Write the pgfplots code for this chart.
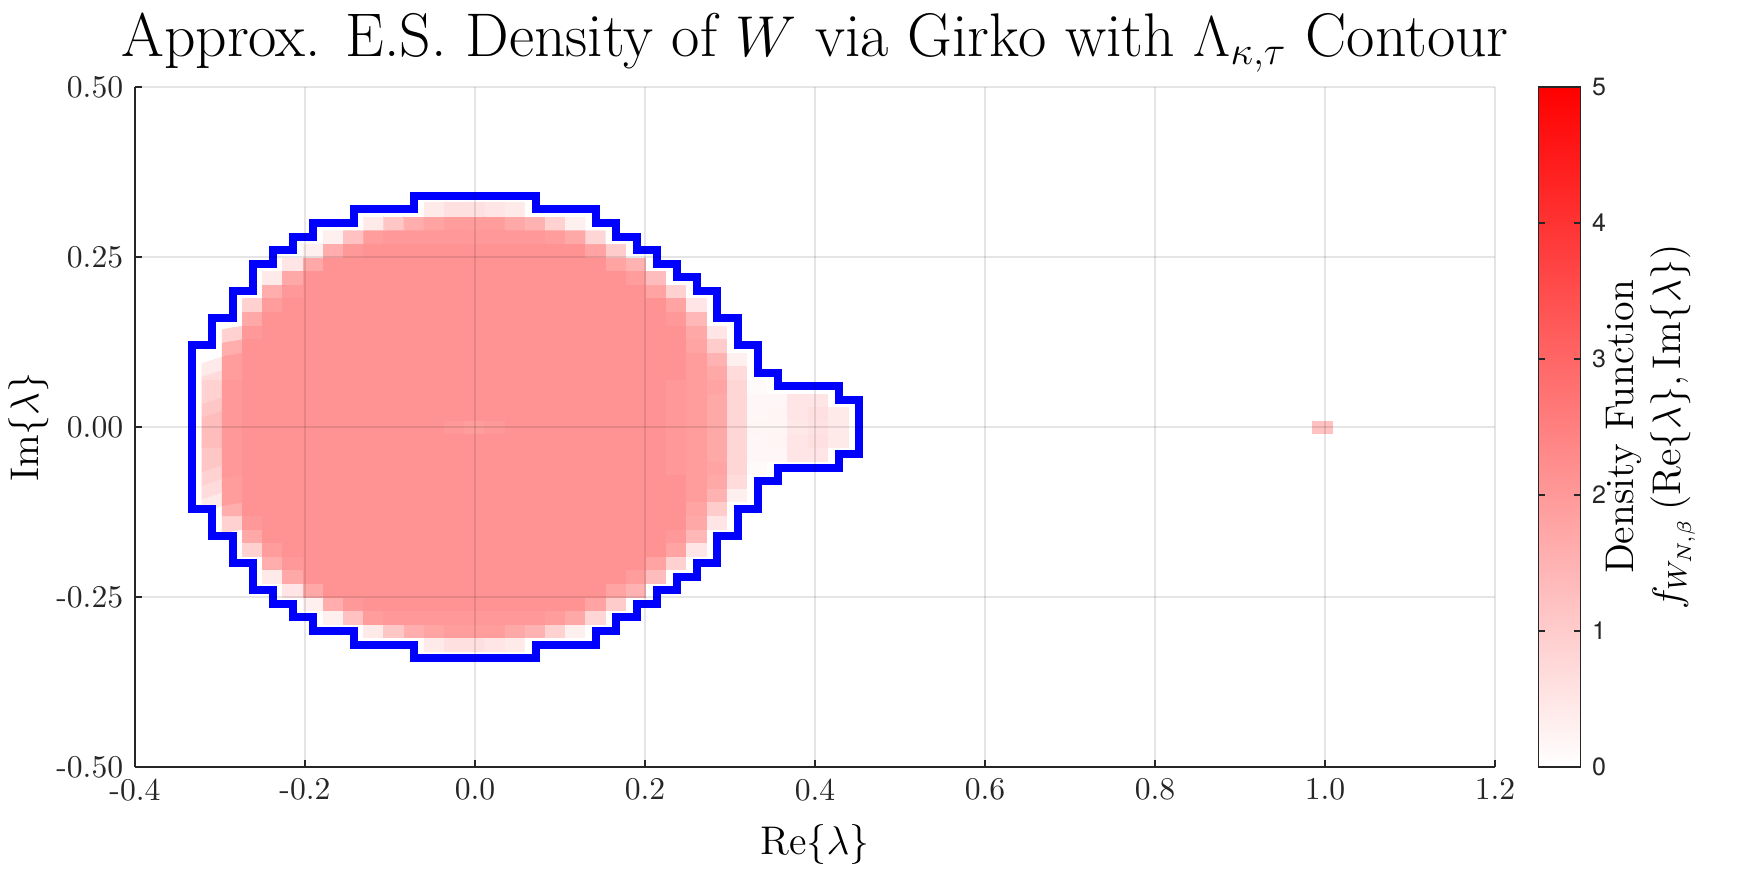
\documentclass[border=0pt]{standalone}
\usepackage{fontspec}
\usepackage{pgfplots}
\pgfplotsset{compat=1.18}
\newfontfamily\helv{TeX Gyre Heros}

\begin{document}
\begin{tikzpicture}
\path[use as bounding box] (-40.5pt,-32.4pt) rectangle (484.5pt,230.1pt);
\begin{axis}[
  at={(0pt,0pt)}, anchor=south west,
  scale only axis, width=408pt, height=204pt,
  xmin=-0.4, xmax=1.2, ymin=-0.5, ymax=0.5,
  axis on top,
  axis x line*=bottom, axis y line*=left,
  every outer x axis line/.append style={-},
  every outer y axis line/.append style={-},
  axis line style={-, draw=black!85, line width=0.45pt},
  tick style={draw=black!85, line width=0.45pt},
  tick align=inside, major tick length=2pt,
  xtick={-0.4,-0.2,0,0.2,0.4,0.6,0.8,1.0,1.2},
  xticklabels={-0.4,-0.2,0.0,0.2,0.4,0.6,0.8,1.0,1.2},
  ytick={-0.5,-0.25,0,0.25,0.5},
  yticklabels={-0.50,-0.25,0.00,0.25,0.50},
  ticklabel style={font=\fontsize{9.5}{11}\selectfont, text=black!85},
  grid=major,
  major grid style={draw=black, opacity=0.1, line width=0.4pt},
  title={Approx. E.S. Density of $W$ via Girko with $\Lambda_{\kappa,\tau}$ Contour},
  every axis title/.style={at={(axis description cs:0.5,1.0456)}, anchor=base, font=\fontsize{18.5}{21}\selectfont},
  xlabel={$\mathrm{Re}\{\lambda\}$},
  xlabel style={at={(axis description cs:0.5,-0.129)}, anchor=base, font=\fontsize{12}{14}\selectfont},
  ylabel={$\mathrm{Im}\{\lambda\}$},
  ylabel style={at={(axis description cs:-0.0784,0.5)}, anchor=center, font=\fontsize{12}{14}\selectfont},
  colormap={whitered}{rgb255=(255,255,255) rgb255=(255,0,0)},
  point meta min=0, point meta max=5,
  colorbar,
  colorbar style={
    at={(parent axis.north east)}, anchor=north west, xshift=4.5pt,
    scale only axis, width=12.6pt, height=204pt,
    ytick={0,1,2,3,4,5}, yticklabels={0,1,2,3,4,5},
    yticklabel style={font=\helv\fontsize{7.5}{9}\selectfont},
    axis line style={draw=black!85, line width=0.45pt},
    tick align=inside, major tick length=2pt,
    ylabel={Density Function\\$f_{W_{N,\beta}}\left(\mathrm{Re}\{\lambda\},\mathrm{Im}\{\lambda\}\right)$},
    ylabel style={at={(axis description cs:2.67,0.5)}, anchor=center, align=center, font=\fontsize{12}{14}\selectfont},
  },
]

% density cells: columns -13..18 (dx = 0.02376), rows -16..16 (dy = 0.02), bottom row first
\addplot[matrix plot*, mesh/cols=32, point meta=explicit]
  table[header=false, row sep=\\, meta index=0,
        x expr={(mod(\coordindex,32)-13)*0.02376},
        y expr={(floor(\coordindex/32)-16)*0.02}] {
0\\ 0\\ 0\\ 0\\ 0\\  0\\ 0\\ 0\\ 0\\ 0\\  0\\  0.4\\ 0.6\\ 0.6\\ 0.5\\ 0.4\\  0\\ 0\\ 0\\ 0\\ 0\\  0\\ 0\\ 0\\ 0\\ 0\\  0\\ 0\\ 0\\ 0\\ 0\\  0\\
0\\ 0\\ 0\\ 0\\ 0\\  0\\ 0\\ 0\\  0.4\\ 1.1\\ 1.6\\ 1.8\\ 1.9\\ 1.9\\ 1.9\\ 1.7\\ 1.5\\ 0.9\\ 0.3\\  0\\ 0\\ 0\\ 0\\ 0\\  0\\ 0\\ 0\\ 0\\ 0\\  0\\ 0\\ 0\\
0\\ 0\\ 0\\ 0\\ 0\\  0\\  0.3\\ 1.2\\ 1.9\\ 2\\ 2\\ 2\\ 2\\ 2\\ 2\\ 2\\ 2\\ 1.9\\ 1.7\\ 0.8\\  0\\ 0\\ 0\\ 0\\ 0\\  0\\ 0\\ 0\\ 0\\ 0\\  0\\ 0\\
0\\ 0\\ 0\\ 0\\ 0\\  0.3\\ 1.6\\ 2\\  2.1\\ 2.1\\ 2.1\\ 2.1\\ 2.1\\  2.1\\ 2.1\\ 2.1\\ 2.1\\ 2.1\\  2.1\\  1.8\\ 1\\  0\\ 0\\ 0\\ 0\\ 0\\  0\\ 0\\ 0\\ 0\\ 0\\  0\\
0\\ 0\\ 0\\ 0\\  0.5\\ 1.7\\  2.1\\ 2.1\\ 2.1\\ 2.1\\ 2.1\\  2.1\\ 2.1\\ 2.1\\ 2.1\\ 2.1\\  2.1\\ 2.1\\ 2.1\\ 2.1\\  1.8\\ 1.5\\  0\\ 0\\ 0\\ 0\\ 0\\  0\\ 0\\ 0\\ 0\\ 0\\
0\\ 0\\ 0\\  0.4\\ 1.7\\  2.1\\ 2.1\\ 2.1\\ 2.1\\ 2.1\\  2.1\\ 2.1\\ 2.1\\ 2.1\\ 2.1\\  2.1\\ 2.1\\ 2.1\\ 2.1\\ 2.1\\  2.1\\  1.9\\ 1.3\\  0\\ 0\\ 0\\ 0\\ 0\\  0\\ 0\\ 0\\ 0\\
0\\ 0\\ 0\\  1.6\\ 2\\  2.1\\ 2.1\\ 2.1\\ 2.1\\ 2.1\\  2.1\\ 2.1\\ 2.1\\ 2.1\\ 2.1\\  2.1\\ 2.1\\ 2.1\\ 2.1\\ 2.1\\  2.1\\ 2.1\\  1.8\\ 0.9\\  0\\ 0\\ 0\\ 0\\ 0\\  0\\ 0\\ 0\\
0\\ 0\\  0.9\\ 1.9\\  2.1\\ 2.1\\ 2.1\\ 2.1\\ 2.1\\  2.1\\ 2.1\\ 2.1\\ 2.1\\ 2.1\\  2.1\\ 2.1\\ 2.1\\ 2.1\\ 2.1\\  2.1\\ 2.1\\ 2.1\\ 2.1\\  1.8\\ 0.5\\  0\\ 0\\ 0\\ 0\\ 0\\  0\\ 0\\
0\\ 0\\  1.7\\  2.1\\ 2.1\\ 2.1\\ 2.1\\ 2.1\\  2.1\\ 2.1\\ 2.1\\ 2.1\\ 2.1\\  2.1\\ 2.1\\ 2.1\\ 2.1\\ 2.1\\  2.1\\ 2.1\\ 2.1\\ 2.1\\ 2.1\\  2\\ 1.4\\  0\\ 0\\ 0\\ 0\\ 0\\  0\\ 0\\
0\\  0.9\\ 2\\  2.1\\ 2.1\\ 2.1\\ 2.1\\ 2.1\\  2.1\\ 2.1\\ 2.1\\ 2.1\\ 2.1\\  2.1\\ 2.1\\ 2.1\\ 2.1\\ 2.1\\  2.1\\ 2.1\\ 2.1\\ 2.1\\ 2.1\\  2.1\\  1.7\\ 0.5\\  0\\ 0\\ 0\\ 0\\ 0\\  0\\
0\\  1.6\\  2.1\\ 2.1\\ 2.1\\ 2.1\\ 2.1\\  2.1\\ 2.1\\ 2.1\\ 2.1\\ 2.1\\  2.1\\ 2.1\\ 2.1\\ 2.1\\ 2.1\\  2.1\\ 2.1\\ 2.1\\ 2.1\\ 2.1\\  2.1\\ 2.1\\  1.8\\ 1\\  0\\ 0\\ 0\\ 0\\ 0\\  0\\
0.4\\ 1.9\\  2.1\\ 2.1\\ 2.1\\ 2.1\\ 2.1\\  2.1\\ 2.1\\ 2.1\\ 2.1\\ 2.1\\  2.1\\ 2.1\\ 2.1\\ 2.1\\ 2.1\\  2.1\\ 2.1\\ 2.1\\ 2.1\\ 2.1\\  2.1\\ 2.1\\  1.9\\ 1.5\\ 0.3\\  0\\ 0\\ 0\\ 0\\ 0\\
0.7\\ 1.9\\  2.1\\ 2.1\\ 2.1\\ 2.1\\ 2.1\\  2.1\\ 2.1\\ 2.1\\ 2.1\\ 2.1\\  2.1\\ 2.1\\ 2.1\\ 2.1\\ 2.1\\  2.1\\ 2.1\\ 2.1\\ 2.1\\ 2.1\\  2.1\\ 2.1\\  1.9\\ 1.7\\ 0.7\\  0\\ 0\\ 0\\ 0\\ 0\\
0.9\\ 2\\  2.1\\ 2.1\\ 2.1\\ 2.1\\ 2.1\\  2.1\\ 2.1\\ 2.1\\ 2.1\\ 2.1\\  2.1\\ 2.1\\ 2.1\\ 2.1\\ 2.1\\  2.1\\ 2.1\\ 2.1\\ 2.1\\ 2.1\\  2.1\\  2\\ 1.9\\ 1.8\\ 0.8\\ 0.1\\  0\\ 0\\ 0\\ 0\\
1.1\\ 2\\  2.1\\ 2.1\\ 2.1\\ 2.1\\ 2.1\\  2.1\\ 2.1\\ 2.1\\ 2.1\\ 2.1\\  2.1\\ 2.1\\ 2.1\\ 2.1\\ 2.1\\  2.1\\ 2.1\\ 2.1\\ 2.1\\ 2.1\\  2.1\\  2\\ 1.9\\ 1.7\\ 0.8\\  0.15\\ 0.15\\ 0.5\\ 0.5\\  0\\
1.3\\ 2\\  2.1\\ 2.1\\ 2.1\\ 2.1\\ 2.1\\  2.1\\ 2.1\\ 2.1\\ 2.1\\ 2.1\\  2.1\\ 2.1\\ 2.1\\ 2.1\\ 2.1\\  2.1\\ 2.1\\ 2.1\\ 2.1\\ 2.1\\  2.1\\  2\\ 1.9\\ 1.7\\ 0.8\\  0.15\\ 0.2\\ 0.5\\ 0.6\\ 0.4\\
1.3\\ 2\\  2.1\\ 2.1\\ 2.1\\ 2.1\\ 2.1\\  2.1\\ 2.1\\ 2.1\\ 2.1\\ 2.1\\  2\\ 1.9\\ 2\\  2.1\\ 2.1\\ 2.1\\ 2.1\\ 2.1\\  2.1\\ 2.1\\ 2.1\\  2\\ 1.9\\ 1.7\\ 0.8\\  0.2\\ 0.2\\ 0.45\\ 0.55\\ 0.4\\
1.3\\ 2\\  2.1\\ 2.1\\ 2.1\\ 2.1\\ 2.1\\  2.1\\ 2.1\\ 2.1\\ 2.1\\ 2.1\\  2.1\\ 2.1\\ 2.1\\ 2.1\\ 2.1\\  2.1\\ 2.1\\ 2.1\\ 2.1\\ 2.1\\  2.1\\  2\\ 1.9\\ 1.7\\ 0.8\\  0.15\\ 0.2\\ 0.5\\ 0.6\\ 0.4\\
1.1\\ 2\\  2.1\\ 2.1\\ 2.1\\ 2.1\\ 2.1\\  2.1\\ 2.1\\ 2.1\\ 2.1\\ 2.1\\  2.1\\ 2.1\\ 2.1\\ 2.1\\ 2.1\\  2.1\\ 2.1\\ 2.1\\ 2.1\\ 2.1\\  2.1\\  2\\ 1.9\\ 1.7\\ 0.8\\  0.15\\ 0.15\\ 0.5\\ 0.5\\  0\\
0.9\\ 2\\  2.1\\ 2.1\\ 2.1\\ 2.1\\ 2.1\\  2.1\\ 2.1\\ 2.1\\ 2.1\\ 2.1\\  2.1\\ 2.1\\ 2.1\\ 2.1\\ 2.1\\  2.1\\ 2.1\\ 2.1\\ 2.1\\ 2.1\\  2.1\\  2\\ 1.9\\ 1.8\\ 0.8\\ 0.1\\  0\\ 0\\ 0\\ 0\\
0.7\\ 1.9\\  2.1\\ 2.1\\ 2.1\\ 2.1\\ 2.1\\  2.1\\ 2.1\\ 2.1\\ 2.1\\ 2.1\\  2.1\\ 2.1\\ 2.1\\ 2.1\\ 2.1\\  2.1\\ 2.1\\ 2.1\\ 2.1\\ 2.1\\  2.1\\ 2.1\\  1.9\\ 1.7\\ 0.7\\  0\\ 0\\ 0\\ 0\\ 0\\
0.4\\ 1.9\\  2.1\\ 2.1\\ 2.1\\ 2.1\\ 2.1\\  2.1\\ 2.1\\ 2.1\\ 2.1\\ 2.1\\  2.1\\ 2.1\\ 2.1\\ 2.1\\ 2.1\\  2.1\\ 2.1\\ 2.1\\ 2.1\\ 2.1\\  2.1\\ 2.1\\  1.9\\ 1.5\\ 0.3\\  0\\ 0\\ 0\\ 0\\ 0\\
0\\  1.6\\  2.1\\ 2.1\\ 2.1\\ 2.1\\ 2.1\\  2.1\\ 2.1\\ 2.1\\ 2.1\\ 2.1\\  2.1\\ 2.1\\ 2.1\\ 2.1\\ 2.1\\  2.1\\ 2.1\\ 2.1\\ 2.1\\ 2.1\\  2.1\\ 2.1\\  1.8\\ 1\\  0\\ 0\\ 0\\ 0\\ 0\\  0\\
0\\  0.9\\ 2\\  2.1\\ 2.1\\ 2.1\\ 2.1\\ 2.1\\  2.1\\ 2.1\\ 2.1\\ 2.1\\ 2.1\\  2.1\\ 2.1\\ 2.1\\ 2.1\\ 2.1\\  2.1\\ 2.1\\ 2.1\\ 2.1\\ 2.1\\  2.1\\  1.7\\ 0.5\\  0\\ 0\\ 0\\ 0\\ 0\\  0\\
0\\ 0\\  1.7\\  2.1\\ 2.1\\ 2.1\\ 2.1\\ 2.1\\  2.1\\ 2.1\\ 2.1\\ 2.1\\ 2.1\\  2.1\\ 2.1\\ 2.1\\ 2.1\\ 2.1\\  2.1\\ 2.1\\ 2.1\\ 2.1\\ 2.1\\  2\\ 1.4\\  0\\ 0\\ 0\\ 0\\ 0\\  0\\ 0\\
0\\ 0\\  0.9\\ 1.9\\  2.1\\ 2.1\\ 2.1\\ 2.1\\ 2.1\\  2.1\\ 2.1\\ 2.1\\ 2.1\\ 2.1\\  2.1\\ 2.1\\ 2.1\\ 2.1\\ 2.1\\  2.1\\ 2.1\\ 2.1\\ 2.1\\  1.8\\ 0.5\\  0\\ 0\\ 0\\ 0\\ 0\\  0\\ 0\\
0\\ 0\\ 0\\  1.6\\ 2\\  2.1\\ 2.1\\ 2.1\\ 2.1\\ 2.1\\  2.1\\ 2.1\\ 2.1\\ 2.1\\ 2.1\\  2.1\\ 2.1\\ 2.1\\ 2.1\\ 2.1\\  2.1\\ 2.1\\  1.8\\ 0.9\\  0\\ 0\\ 0\\ 0\\ 0\\  0\\ 0\\ 0\\
0\\ 0\\ 0\\  0.4\\ 1.7\\  2.1\\ 2.1\\ 2.1\\ 2.1\\ 2.1\\  2.1\\ 2.1\\ 2.1\\ 2.1\\ 2.1\\  2.1\\ 2.1\\ 2.1\\ 2.1\\ 2.1\\  2.1\\  1.9\\ 1.3\\  0\\ 0\\ 0\\ 0\\ 0\\  0\\ 0\\ 0\\ 0\\
0\\ 0\\ 0\\ 0\\  0.5\\ 1.7\\  2.1\\ 2.1\\ 2.1\\ 2.1\\ 2.1\\  2.1\\ 2.1\\ 2.1\\ 2.1\\ 2.1\\  2.1\\ 2.1\\ 2.1\\ 2.1\\  1.8\\ 1.5\\  0\\ 0\\ 0\\ 0\\ 0\\  0\\ 0\\ 0\\ 0\\ 0\\
0\\ 0\\ 0\\ 0\\ 0\\  0.3\\ 1.6\\ 2\\  2.1\\ 2.1\\ 2.1\\ 2.1\\ 2.1\\  2.1\\ 2.1\\ 2.1\\ 2.1\\ 2.1\\  2.1\\  1.8\\ 1\\  0\\ 0\\ 0\\ 0\\ 0\\  0\\ 0\\ 0\\ 0\\ 0\\  0\\
0\\ 0\\ 0\\ 0\\ 0\\  0\\  0.3\\ 1.2\\ 1.9\\ 2\\ 2\\ 2\\ 2\\ 2\\ 2\\ 2\\ 2\\ 1.9\\ 1.7\\ 0.8\\  0\\ 0\\ 0\\ 0\\ 0\\  0\\ 0\\ 0\\ 0\\ 0\\  0\\ 0\\
0\\ 0\\ 0\\ 0\\ 0\\  0\\ 0\\ 0\\  0.4\\ 1.1\\ 1.6\\ 1.8\\ 1.9\\ 1.9\\ 1.9\\ 1.7\\ 1.5\\ 0.9\\ 0.3\\  0\\ 0\\ 0\\ 0\\ 0\\  0\\ 0\\ 0\\ 0\\ 0\\  0\\ 0\\ 0\\
0\\ 0\\ 0\\ 0\\ 0\\  0\\ 0\\ 0\\ 0\\ 0\\  0\\  0.4\\ 0.6\\ 0.6\\ 0.5\\ 0.4\\  0\\ 0\\ 0\\ 0\\ 0\\  0\\ 0\\ 0\\ 0\\ 0\\  0\\ 0\\ 0\\ 0\\ 0\\  0\\
};

% isolated cell at 1.0
\addplot[matrix plot*, mesh/cols=3, point meta=explicit] coordinates {
  (0.9741,-0.02) [0] (0.9979,-0.02) [0] (1.0217,-0.02) [0]
  (0.9741,0) [0] (0.9979,0) [1.2] (1.0217,0) [0]
  (0.9741,0.02) [0] (0.9979,0.02) [0] (1.0217,0.02) [0]
};

% contour
\addplot[blue, line width=2.4pt, line join=miter, mark=none] coordinates {
  (-0.3326,0) (-0.3326,0.12) (-0.3089,0.12) (-0.3089,0.16) (-0.2851,0.16)
  (-0.2851,0.20) (-0.2614,0.20) (-0.2614,0.24) (-0.2376,0.24) (-0.2376,0.26)
  (-0.2138,0.26) (-0.2138,0.28) (-0.1901,0.28) (-0.1901,0.30) (-0.1426,0.30)
  (-0.1426,0.32) (-0.0713,0.32) (-0.0713,0.34) (0.0713,0.34) (0.0713,0.32)
  (0.1426,0.32) (0.1426,0.30) (0.1663,0.30) (0.1663,0.28) (0.1901,0.28)
  (0.1901,0.26) (0.2138,0.26) (0.2138,0.24) (0.2376,0.24) (0.2376,0.22)
  (0.2614,0.22) (0.2614,0.20) (0.2851,0.20) (0.2851,0.16) (0.3089,0.16)
  (0.3089,0.12) (0.3326,0.12) (0.3326,0.08) (0.3564,0.08) (0.3564,0.06)
  (0.4277,0.06) (0.4277,0.04) (0.4514,0.04) (0.4514,-0.04) (0.4277,-0.04)
  (0.4277,-0.06) (0.3564,-0.06) (0.3564,-0.08) (0.3326,-0.08) (0.3326,-0.12)
  (0.3089,-0.12) (0.3089,-0.16) (0.2851,-0.16) (0.2851,-0.20) (0.2614,-0.20)
  (0.2614,-0.22) (0.2376,-0.22) (0.2376,-0.24) (0.2138,-0.24) (0.2138,-0.26)
  (0.1901,-0.26) (0.1901,-0.28) (0.1663,-0.28) (0.1663,-0.30) (0.1426,-0.30)
  (0.1426,-0.32) (0.0713,-0.32) (0.0713,-0.34) (-0.0713,-0.34) (-0.0713,-0.32)
  (-0.1426,-0.32) (-0.1426,-0.30) (-0.1901,-0.30) (-0.1901,-0.28) (-0.2138,-0.28)
  (-0.2138,-0.26) (-0.2376,-0.26) (-0.2376,-0.24) (-0.2614,-0.24) (-0.2614,-0.20)
  (-0.2851,-0.20) (-0.2851,-0.16) (-0.3089,-0.16) (-0.3089,-0.12) (-0.3326,-0.12)
  (-0.3326,0)
};
\end{axis}
\end{tikzpicture}
\end{document}
